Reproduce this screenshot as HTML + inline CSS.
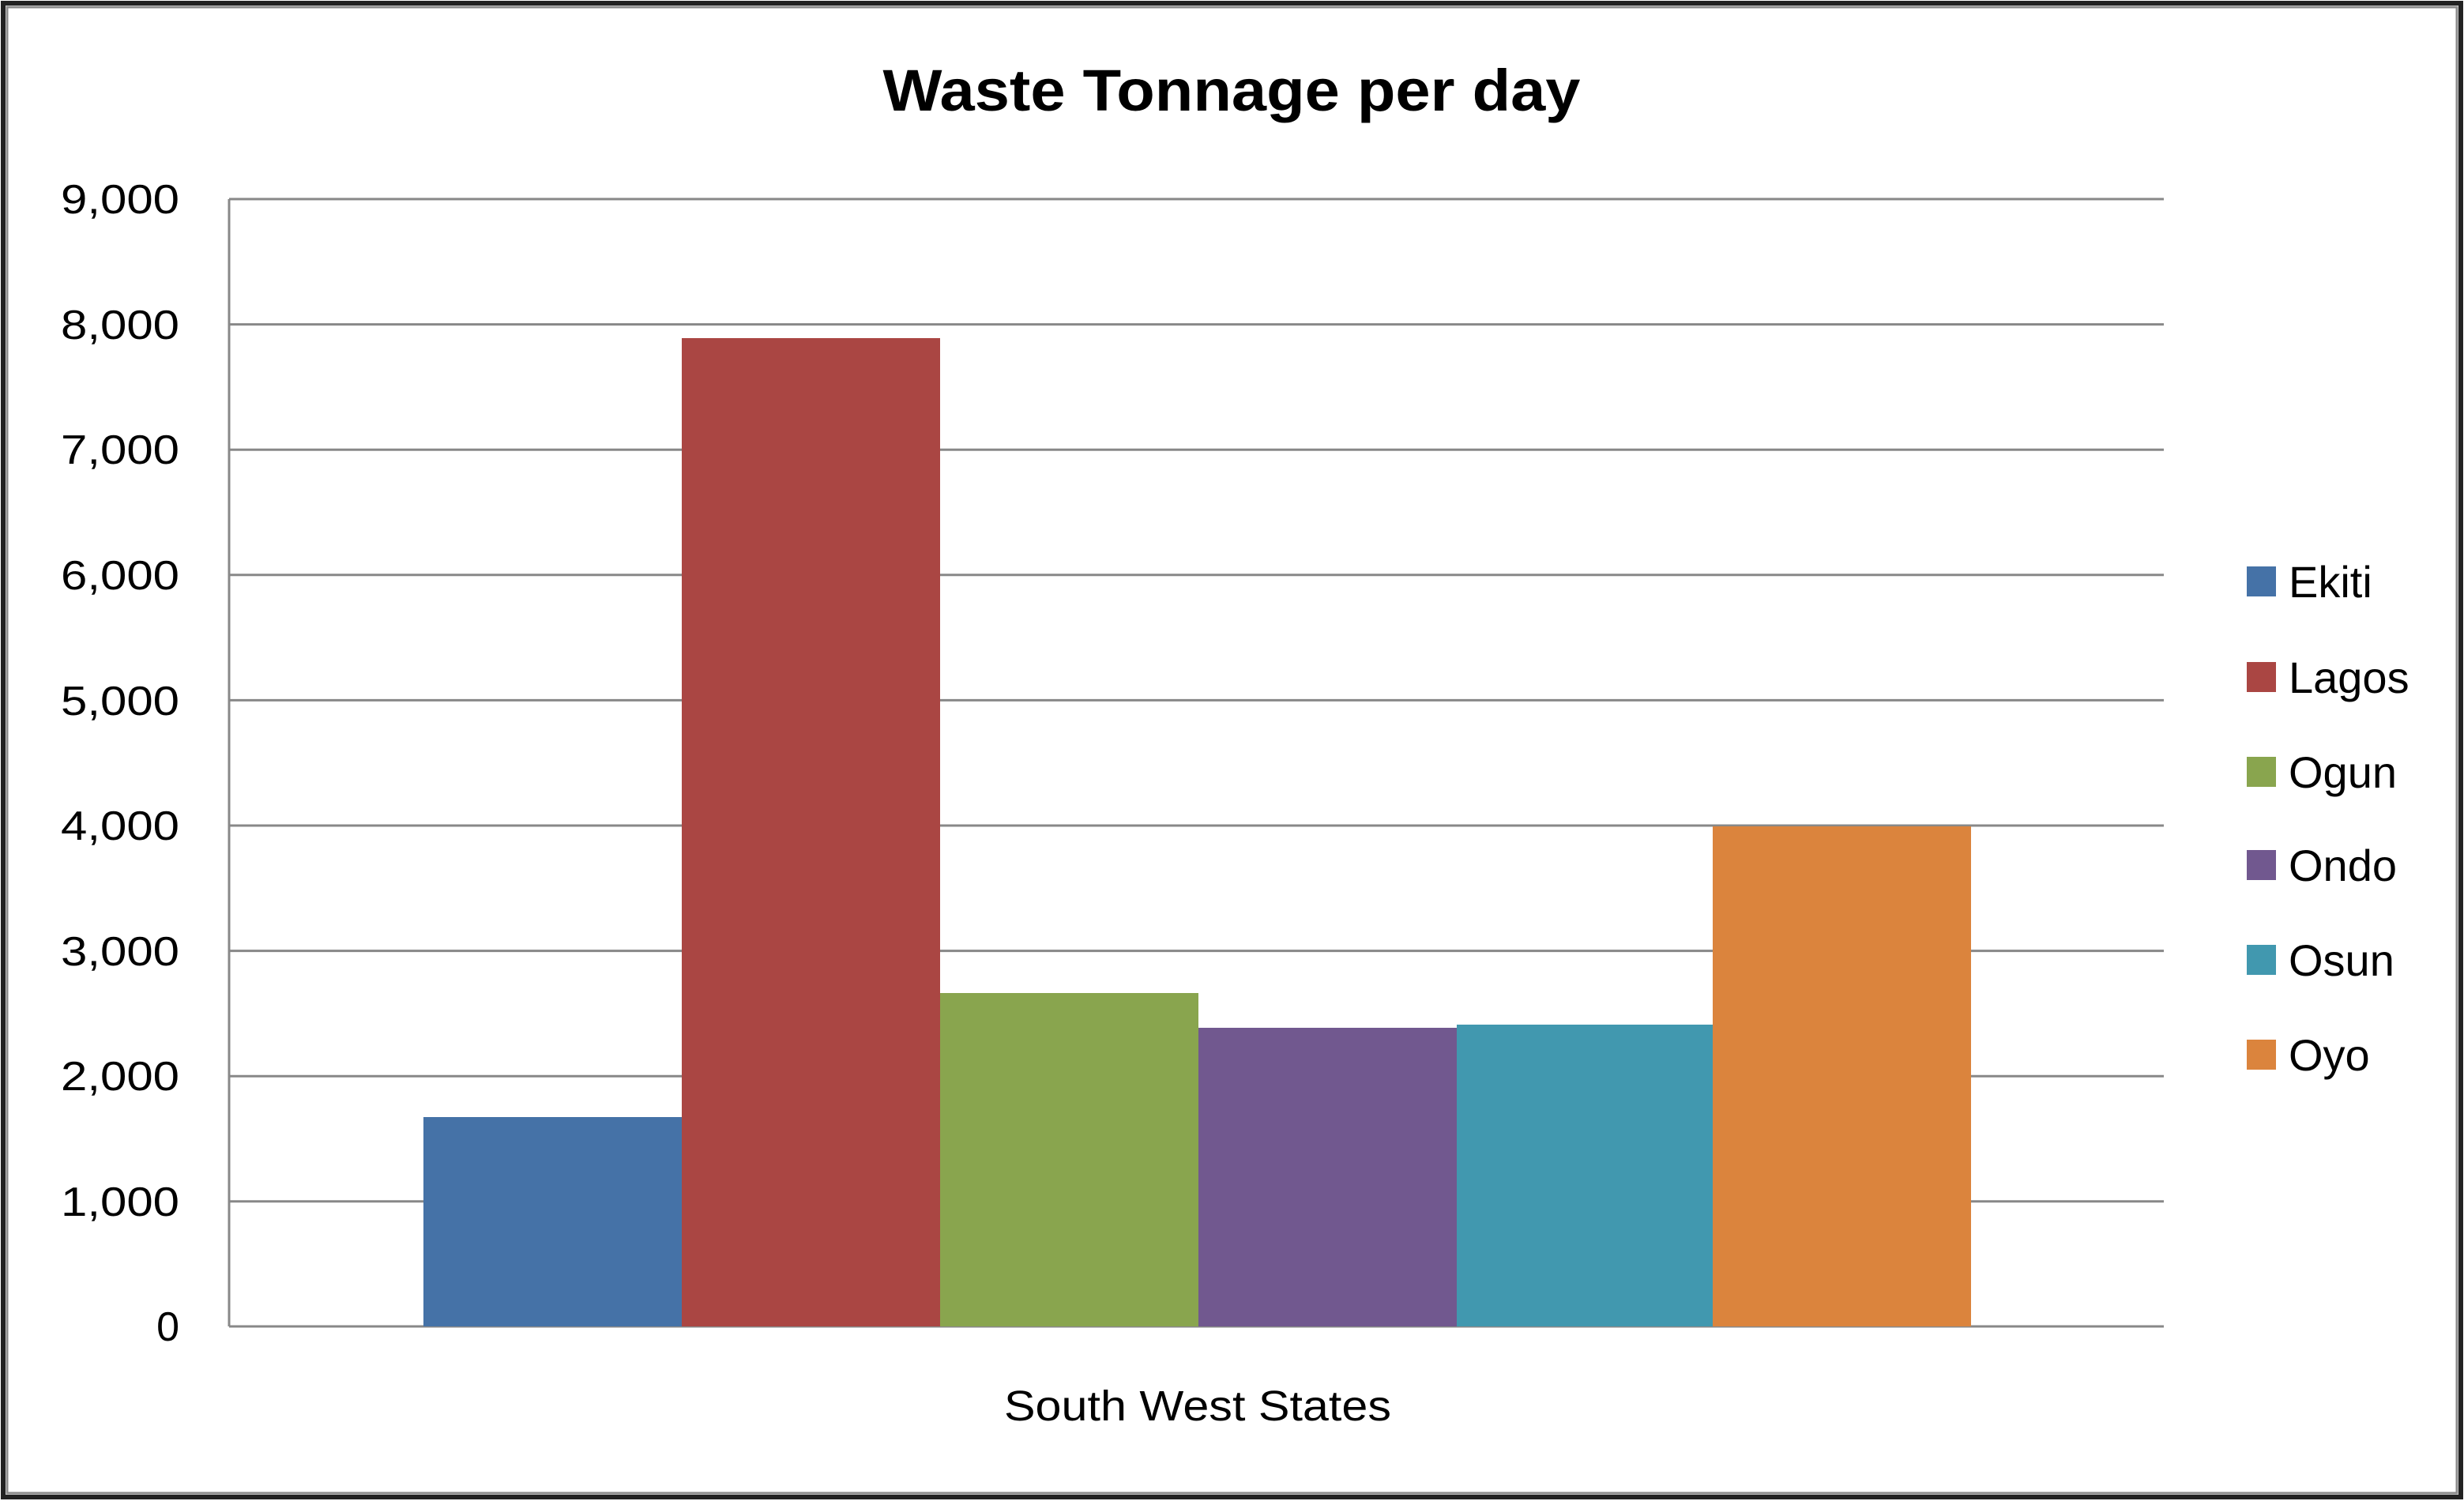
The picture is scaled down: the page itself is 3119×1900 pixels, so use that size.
<!DOCTYPE html>
<html><head><meta charset="utf-8"><style>html,body{margin:0;padding:0;background:#fff}svg{display:block}</style></head>
<body>
<svg width="3119" height="1900" viewBox="0 0 3119 1900" xmlns="http://www.w3.org/2000/svg" font-family="Liberation Sans, DejaVu Sans, sans-serif">
<rect x="0" y="0" width="3119" height="1900" fill="#fff"/>
<rect x="4" y="4" width="3111" height="1891" fill="none" stroke="#222" stroke-width="6"/>
<rect x="9" y="9" width="3101" height="1881" fill="none" stroke="#8c8c8c" stroke-width="3"/>
<text x="1559" y="140" font-size="74" font-weight="bold" text-anchor="middle" textLength="883" lengthAdjust="spacingAndGlyphs" fill="#000">Waste Tonnage per day</text>
<g stroke="#888" stroke-width="3">
<line x1="290" y1="252" x2="2739" y2="252"/>
<line x1="290" y1="410.6" x2="2739" y2="410.6"/>
<line x1="290" y1="569.2" x2="2739" y2="569.2"/>
<line x1="290" y1="727.8" x2="2739" y2="727.8"/>
<line x1="290" y1="886.4" x2="2739" y2="886.4"/>
<line x1="290" y1="1045" x2="2739" y2="1045"/>
<line x1="290" y1="1203.6" x2="2739" y2="1203.6"/>
<line x1="290" y1="1362.2" x2="2739" y2="1362.2"/>
<line x1="290" y1="1520.8" x2="2739" y2="1520.8"/>
<line x1="290" y1="1679" x2="2739" y2="1679"/>
<line x1="290" y1="252" x2="290" y2="1679"/>
</g>
<rect x="536" y="1414" width="327" height="265" fill="#4572a7"/>
<rect x="863" y="428" width="327" height="1251" fill="#aa4643"/>
<rect x="1190" y="1257" width="327" height="422" fill="#89a54e"/>
<rect x="1517" y="1301" width="327" height="378" fill="#71588f"/>
<rect x="1844" y="1297" width="327" height="382" fill="#4198af"/>
<rect x="2168" y="1046" width="327" height="633" fill="#db843d"/>
<g font-size="52" text-anchor="end" fill="#000">
<text x="227" y="270" textLength="150" lengthAdjust="spacingAndGlyphs">9,000</text>
<text x="227" y="429" textLength="150" lengthAdjust="spacingAndGlyphs">8,000</text>
<text x="227" y="587" textLength="150" lengthAdjust="spacingAndGlyphs">7,000</text>
<text x="227" y="746" textLength="150" lengthAdjust="spacingAndGlyphs">6,000</text>
<text x="227" y="905" textLength="150" lengthAdjust="spacingAndGlyphs">5,000</text>
<text x="227" y="1063" textLength="150" lengthAdjust="spacingAndGlyphs">4,000</text>
<text x="227" y="1222" textLength="150" lengthAdjust="spacingAndGlyphs">3,000</text>
<text x="227" y="1380" textLength="150" lengthAdjust="spacingAndGlyphs">2,000</text>
<text x="227" y="1539" textLength="150" lengthAdjust="spacingAndGlyphs">1,000</text>
<text x="227" y="1697">0</text>
</g>
<text x="1516" y="1798" font-size="54" text-anchor="middle" textLength="490" lengthAdjust="spacingAndGlyphs" fill="#000">South West States</text>
<g font-size="56" fill="#000">
<rect x="2844" y="717" width="37" height="38" fill="#4572a7"/><text x="2897" y="756">Ekiti</text>
<rect x="2844" y="838" width="37" height="38" fill="#aa4643"/><text x="2897" y="877">Lagos</text>
<rect x="2844" y="958" width="37" height="38" fill="#89a54e"/><text x="2897" y="997">Ogun</text>
<rect x="2844" y="1076" width="37" height="38" fill="#71588f"/><text x="2897" y="1115">Ondo</text>
<rect x="2844" y="1196" width="37" height="38" fill="#4198af"/><text x="2897" y="1235">Osun</text>
<rect x="2844" y="1316" width="37" height="38" fill="#db843d"/><text x="2897" y="1355">Oyo</text>
</g>
</svg>
</body></html>
